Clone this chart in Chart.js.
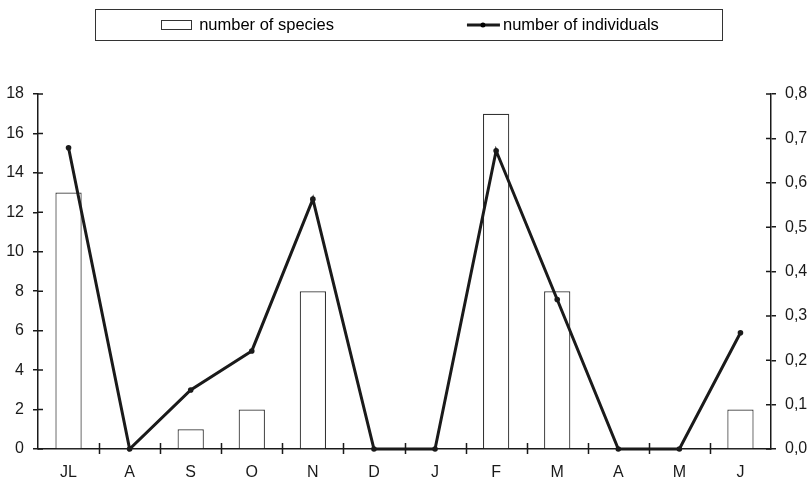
<!DOCTYPE html>
<html>
<head>
<meta charset="utf-8">
<script src="https://cdn.jsdelivr.net/npm/chart.js@4.4.1/dist/chart.umd.min.js"></script>
<style>
  html, body { margin: 0; padding: 0; background: #fff; }
  #wrap { width: 809px; height: 481px; position: relative; }
</style>
</head>
<body>
<div id="wrap"><canvas id="chart" width="809" height="481"></canvas></div>
<script>
// months, July to June
const months = ['JL', 'A', 'S', 'O', 'N', 'D', 'J', 'F', 'M', 'A', 'M', 'J'];
const speciesCount = [13, 0, 1, 2, 8, 0, 0, 17, 8, 0, 0, 2];
const individuals = [0.679, 0, 0.133, 0.221, 0.563, 0, 0, 0.672, 0.337, 0, 0, 0.262];
const leftTicks = [0, 2, 4, 6, 8, 10, 12, 14, 16, 18];
const rightTicks = [0, 0.1, 0.2, 0.3, 0.4, 0.5, 0.6, 0.7, 0.8];
const legendNames = ['number of species', 'number of individuals'];

const ink = '#1a1a1a';
const family = '"Liberation Sans", Arial, sans-serif';
const font = { family: family, size: 16 };

// little tick marks that cross the axis lines, and the boxed legend
const extras = {
    id: 'extras',
    afterDraw(chart) {
        const ctx = chart.ctx;
        const area = chart.chartArea;
        const x = chart.scales.x;
        ctx.save();
        ctx.strokeStyle = ink;
        ctx.lineWidth = 1.5;
        ctx.beginPath();
        chart.scales.y.ticks.forEach(t => {
            const py = chart.scales.y.getPixelForValue(t.value);
            ctx.moveTo(area.left, py); ctx.lineTo(area.left + 5, py);
        });
        chart.scales.y1.ticks.forEach(t => {
            const py = chart.scales.y1.getPixelForValue(t.value);
            ctx.moveTo(area.right - 5, py); ctx.lineTo(area.right, py);
        });
        for (let i = 1; i < months.length; i++) {
            const px = Math.round(x.getPixelForValue(i - 0.5)) + 0.5;
            ctx.moveTo(px, area.bottom - 6); ctx.lineTo(px, area.bottom + 5);
        }
        ctx.stroke();

        // legend
        ctx.font = '16.5px ' + family;
        ctx.fillStyle = '#000';
        ctx.textBaseline = 'middle';
        const cy = 25;
        const w1 = 38 + ctx.measureText(legendNames[0]).width;
        const w2 = 36 + ctx.measureText(legendNames[1]).width;
        const gap = 133;
        let lx = chart.width / 2 + 5.5 - (w1 + gap + w2) / 2;
        ctx.lineWidth = 1;
        ctx.strokeStyle = '#333';
        ctx.strokeRect(95.5, 9.5, 627, 31);
        ctx.strokeRect(Math.round(lx) + 0.5, cy - 4.5, 30, 9);
        ctx.fillText(legendNames[0], lx + 38, cy);
        lx += w1 + gap;
        ctx.strokeStyle = ink;
        ctx.lineWidth = 3;
        ctx.beginPath();
        ctx.moveTo(lx, cy); ctx.lineTo(lx + 33, cy);
        ctx.stroke();
        ctx.beginPath();
        ctx.arc(lx + 16, cy, 2.5, 0, Math.PI * 2);
        ctx.fill();
        ctx.fillText(legendNames[1], lx + 36, cy);
        ctx.restore();
    }
};

new Chart(document.getElementById('chart'), {
    data: {
        labels: months,
        datasets: [
            {
                type: 'line',
                label: legendNames[1],
                data: individuals,
                yAxisID: 'y1',
                borderColor: ink,
                backgroundColor: ink,
                borderWidth: 3,
                pointRadius: 2.8,
                pointBackgroundColor: ink,
                pointBorderWidth: 0,
                tension: 0,
                clip: false,
                order: 0
            },
            {
                type: 'bar',
                label: legendNames[0],
                data: speciesCount,
                yAxisID: 'y',
                backgroundColor: '#ffffff',
                borderColor: '#333333',
                borderWidth: 1.2,
                barPercentage: 0.43,
                categoryPercentage: 1,
                order: 1
            }
        ]
    },
    options: {
        responsive: false,
        animation: false,
        layout: { padding: { top: 94, left: 0, right: 0, bottom: 0 } },
        plugins: { legend: { display: false }, tooltip: { enabled: false } },
        scales: {
            x: {
                offset: true,
                grid: { display: false, offset: true },
                border: { color: ink, width: 1.5 },
                ticks: { color: ink, font: font, padding: 6, maxRotation: 0, autoSkip: false },
                afterFit(s) { s.height = 32; }
            },
            y: {
                position: 'left',
                min: 0, max: 18,
                afterBuildTicks(s) { s.ticks = leftTicks.map(v => ({ value: v })); },
                grid: { drawOnChartArea: false, tickLength: 5, color: ink, lineWidth: 1.5 },
                border: { color: ink, width: 1.5 },
                ticks: { color: ink, font: font, padding: 9 },
                afterFit(s) { s.width = 38; }
            },
            y1: {
                position: 'right',
                min: 0, max: 0.8,
                afterBuildTicks(s) { s.ticks = rightTicks.map(v => ({ value: v })); },
                grid: { drawOnChartArea: false, tickLength: 5, color: ink, lineWidth: 1.5 },
                border: { color: ink, width: 1.5 },
                ticks: { color: ink, font: font, padding: 9,
                    callback: v => v.toFixed(1).replace('.', ',') },
                afterFit(s) { s.width = 38; }
            }
        }
    },
    plugins: [extras]
});
</script>
</body>
</html>
